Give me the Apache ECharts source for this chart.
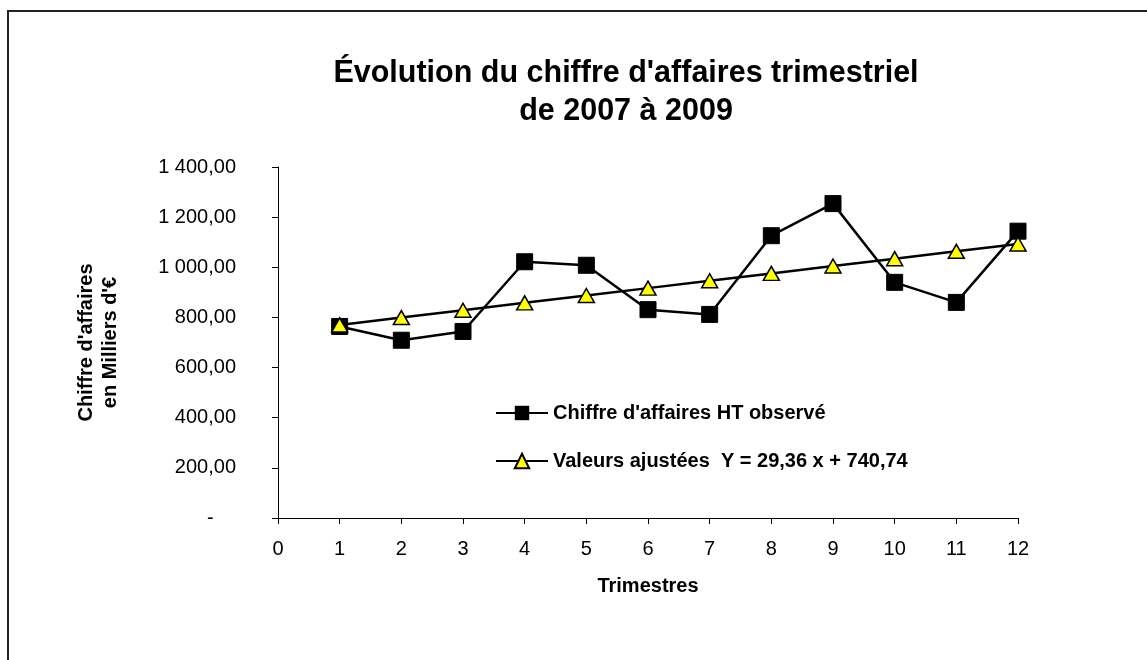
<!DOCTYPE html>
<html>
<head>
<meta charset="utf-8">
<title>Évolution du chiffre d'affaires trimestriel</title>
<script src="https://cdn.jsdelivr.net/npm/echarts@6/dist/echarts.min.js"></script>
<style>
  html, body { margin: 0; padding: 0; background: #fff; }
  #chart { width: 1147px; height: 660px; }
</style>
</head>
<body>
<div id="chart"></div>
<script>
// donnees
var trimestres = [1, 2, 3, 4, 5, 6, 7, 8, 9, 10, 11, 12];
var caObserve = [764, 709, 744, 1022, 1008, 831, 812, 1126, 1254, 940, 860, 1144];
var valeursAjustees = [770.10, 799.46, 828.82, 858.18, 887.54, 916.90, 946.26, 975.62, 1004.98, 1034.34, 1063.70, 1093.06];
var nomsSeries = ["Chiffre d'affaires HT observé", "Valeurs ajustées  Y = 29,36 x + 740,74"];

var police = 'Arial, "Liberation Sans", sans-serif';

function paires(vals) {
  var res = [];
  for (var i = 0; i < trimestres.length; i++) res.push([trimestres[i], vals[i]]);
  return res;
}

// format comptable francais : 1 400,00 et tiret pour zero
function formatMontant(v) {
  if (v === 0) return '-    ';
  var s = v.toFixed(2).split('.');
  var ent = s[0].replace(/\B(?=(\d{3})+(?!\d))/g, ' ');
  return ent + ',' + s[1];
}

var chart = echarts.init(document.getElementById('chart'));
chart.setOption({
  backgroundColor: '#fff',
  animation: false,
  textStyle: { fontFamily: police, color: '#000' },
  graphic: [{
    type: 'rect',
    shape: { x: 8, y: 11, width: 1300, height: 800 },
    style: { fill: 'none', stroke: '#222', lineWidth: 2 },
    silent: true
  }],
  title: {
    text: "Évolution du chiffre d'affaires trimestriel\nde 2007 à 2009",
    left: 626,
    top: 55,
    textAlign: 'center',
    padding: 0,
    textStyle: { fontSize: 30.5, fontWeight: 'bold', color: '#000', lineHeight: 38, fontFamily: police }
  },
  legend: {
    orient: 'vertical',
    left: 495,
    top: 403,
    itemWidth: 52,
    itemHeight: 18,
    itemGap: 28,
    padding: 0,
    data: nomsSeries,
    textStyle: { fontSize: 20, fontWeight: 'bold', color: '#000', fontFamily: police }
  },
  grid: { left: 278, right: 129, top: 167, bottom: 142, containLabel: false },
  xAxis: {
    type: 'value',
    min: 0, max: 12, interval: 1,
    name: 'Trimestres',
    nameLocation: 'middle',
    nameGap: 58,
    nameTextStyle: { fontSize: 20, fontWeight: 'bold', color: '#000' },
    axisLine: { lineStyle: { color: '#000', width: 1 } },
    axisTick: { show: true, length: 6, lineStyle: { color: '#000' } },
    axisLabel: { fontSize: 20, color: '#000', margin: 21 },
    splitLine: { show: false }
  },
  yAxis: {
    type: 'value',
    min: 0, max: 1400, interval: 200,
    name: "Chiffre d'affaires\nen Milliers d'€",
    nameLocation: 'middle',
    nameRotate: 90,
    nameGap: 156,
    nameTextStyle: { fontSize: 20, fontWeight: 'bold', color: '#000', lineHeight: 24, align: 'center' },
    axisLine: { show: true, lineStyle: { color: '#000', width: 1 } },
    axisTick: { show: true, length: 6, lineStyle: { color: '#000' } },
    axisLabel: { fontSize: 20, color: '#000', margin: 42, formatter: formatMontant },
    splitLine: { show: false }
  },
  series: [{
    name: nomsSeries[0],
    type: 'line',
    data: paires(caObserve),
    symbol: 'rect',
    symbolSize: 16,
    lineStyle: { color: '#000', width: 2.5 },
    itemStyle: { color: '#000', borderColor: '#000' },
    z: 2
  }, {
    name: nomsSeries[1],
    type: 'line',
    data: paires(valeursAjustees),
    symbol: 'triangle',
    symbolSize: [16, 14],
    lineStyle: { color: '#000', width: 2.5 },
    itemStyle: { color: '#ffff00', borderColor: '#000', borderWidth: 1.5 },
    z: 3
  }]
});
</script>
</body>
</html>
